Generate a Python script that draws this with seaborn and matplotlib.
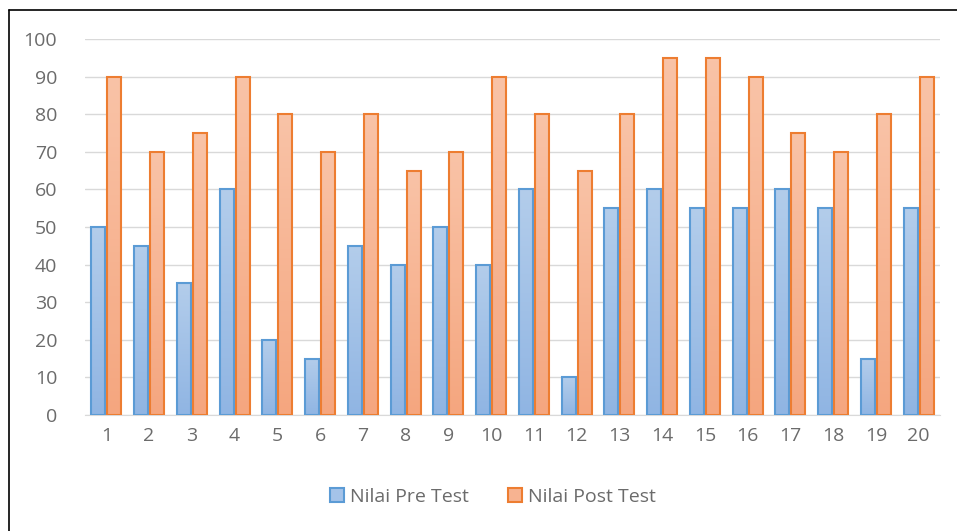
import numpy as np
import pandas as pd
import seaborn as sns
import matplotlib.pyplot as plt
from matplotlib.colors import LinearSegmentedColormap
from matplotlib.patches import Patch
from matplotlib.lines import Line2D

siswa = [str(i) for i in range(1, 21)]
pre_test = [50, 45, 35, 60, 20, 15, 45, 40, 50, 40, 60, 10, 55, 60, 55, 55, 60, 55, 15, 55]
post_test = [90, 70, 75, 90, 80, 70, 80, 65, 70, 90, 80, 65, 80, 95, 95, 90, 75, 70, 80, 90]
series = ["Nilai Pre Test", "Nilai Post Test"]

df = pd.DataFrame({
    "Siswa": siswa * 2,
    "Nilai": pre_test + post_test,
    "Seri": [series[0]] * 20 + [series[1]] * 20,
})

edge = {series[0]: "#5b9bd5", series[1]: "#ed7d31"}
grad = {
    series[0]: LinearSegmentedColormap.from_list("b", ["#90b5e3", "#b3cdeb"]),
    series[1]: LinearSegmentedColormap.from_list("o", ["#f5a67f", "#f9c3a7"]),
}

sns.set_style("white")
plt.rcParams["font.family"] = ["Open Sans", "DejaVu Sans"]

fig = plt.figure(figsize=(9.57, 5.31), dpi=100)
ax = fig.add_axes([0.0888, 0.2185, 0.8934, 0.7081])

sns.barplot(data=df, x="Siswa", y="Nilai", hue="Seri", hue_order=series,
            palette=edge, width=0.75, gap=0.12, legend=False, ax=ax)

# gradien isi batang ala Excel
n = len(siswa)
g = np.linspace(0, 1, 100).reshape(-1, 1)
for i, p in enumerate(ax.patches[:2 * n]):
    s = series[i // n]
    x0, y0 = p.get_x(), p.get_y()
    w, h = p.get_width(), p.get_height()
    p.set_facecolor("none")
    p.set_edgecolor(edge[s])
    p.set_linewidth(1.5)
    p.set_zorder(3)
    im = ax.imshow(g, cmap=grad[s], extent=[x0, x0 + w, y0, y0 + h],
                   origin="lower", aspect="auto", zorder=2)
    im.set_clip_path(p)

ax.set_xlim(-0.5, n - 0.5)
ax.set_ylim(0, 100)
ax.set_yticks(range(0, 101, 10))
ax.yaxis.grid(True, color="#d9d9d9", linewidth=1)
ax.set_axisbelow(True)
for sp in ["top", "right", "left"]:
    ax.spines[sp].set_visible(False)
ax.spines["bottom"].set_color("#d9d9d9")
ax.set_xlabel("")
ax.set_ylabel("")
ax.tick_params(axis="both", length=0, labelsize=14, labelcolor="#6b6b6b")
ax.tick_params(axis="x", pad=9)
ax.tick_params(axis="y", pad=20)

handles = [Patch(facecolor="#a5c3e9", edgecolor=edge[series[0]], linewidth=1.5),
           Patch(facecolor="#f7b391", edgecolor=edge[series[1]], linewidth=1.5)]
fig.legend(handles, series, loc="center", bbox_to_anchor=(0.515, 0.064), ncol=2,
           frameon=False, fontsize=14, labelcolor="#6b6b6b", handlelength=0.75,
           handleheight=0.75, handletextpad=0.3, columnspacing=2.0)

# bingkai grafik
fig.add_artist(Line2D([0.0094, 0.0094], [0, 0.981], color="black", linewidth=1.2))
fig.add_artist(Line2D([0.0094, 1], [0.981, 0.981], color="black", linewidth=1.2))

fig.savefig("out.png", dpi=100)
